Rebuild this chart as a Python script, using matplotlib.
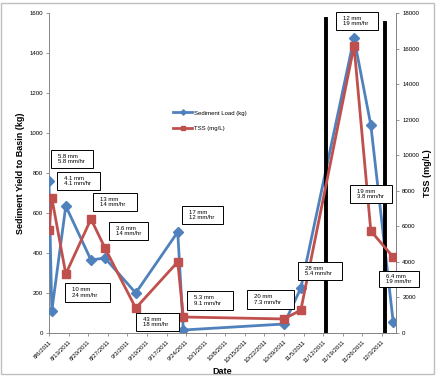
import numpy as np
import pandas as pd
import matplotlib
matplotlib.use('Agg')
import matplotlib.pyplot as plt
from matplotlib.patches import Rectangle

plt.rcParams['font.family'] = ['Liberation Sans', 'DejaVu Sans']

# sediment load (left axis, kg)
sed_dates = ['2011-08-06', '2011-08-07', '2011-08-12', '2011-08-21', '2011-08-26',
             '2011-09-06', '2011-09-21', '2011-09-23', '2011-10-29', '2011-11-04',
             '2011-11-23', '2011-11-29', '2011-12-07']
sed_load = [760, 110, 635, 365, 375, 200, 505, 15, 45, 225, 1475, 1040, 55]

# TSS (right axis, mg/L)
tss_dates = sed_dates
tss_vals = [5800, 7600, 3320, 6410, 4780, 1400, 4000, 900, 790, 1290, 16150, 5740, 4270]

# black event markers
vline_dates = ['2011-11-13', '2011-12-04']
vline_tops = [1570, 1550]

# rainfall boxes
box_labels = ['5.8 mm\n5.8 mm/hr', '4.1 mm\n4.1 mm/hr', '13 mm\n14 mm/hr', '3.6 mm\n14 mm/hr',
              '10 mm\n24 mm/hr', '43 mm\n18 mm/hr', '17 mm\n12 mm/hr', '5.3 mm\n9.1 mm/hr',
              '20 mm\n7.3 mm/hr', '28 mm\n5.4 mm/hr', '12 mm\n19 mm/hr', '19 mm\n3.8 mm/hr',
              '6.4 mm\n19 mm/hr']
# box pixel extents (x0, y0, x1, y1), y from top
box_px = [(51, 150, 93, 168), (57, 172, 100, 190), (93, 193, 137, 211), (109, 222, 148, 240),
          (65, 283, 110, 302), (136, 313, 179, 331), (182, 206, 223, 224), (187, 291, 233, 310),
          (247, 290, 294, 309), (298, 262, 342, 280), (336, 12, 378, 30), (350, 185, 392, 203),
          (379, 271, 419, 287)]

W, H = 441, 377
fig = plt.figure(figsize=(W / 100, H / 100), dpi=100)
ax = fig.add_axes([49 / W, 1 - 333 / H, (396 - 49) / W, 320 / H])
ax2 = ax.twinx()

blue = '#4F81BD'
red = '#C0504D'

sd = pd.to_datetime(sed_dates)
td = pd.to_datetime(tss_dates)
l1, = ax.plot(sd, sed_load, color=blue, lw=2.0, marker='D', ms=5, label='Sediment Load (kg)', zorder=3)
l2, = ax2.plot(td, tss_vals, color=red, lw=2.0, marker='s', ms=5.5, label='TSS (mg/L)', zorder=3)

for d, top in zip(pd.to_datetime(vline_dates), vline_tops):
    ax.plot([d, d], [0, top], color='black', lw=2.8, zorder=4)

ax.set_ylim(0, 1600)
ax2.set_ylim(0, 18000)
ax.set_yticks(np.arange(0, 1601, 200))
ax2.set_yticks(np.arange(0, 18001, 2000))
x0 = pd.Timestamp('2011-08-06')
ax.set_xlim(x0, pd.Timestamp('2011-12-08'))
ticks = pd.date_range('2011-08-06', '2011-12-03', freq='7D')
ax.set_xticks(ticks)
ax.set_xticklabels([f'{t.month}/{t.day}/{t.year}' for t in ticks], rotation=45,
                   ha='right', rotation_mode='anchor', fontsize=4.4)

for a in (ax, ax2):
    for s in a.spines.values():
        s.set_color('#868686')
        s.set_linewidth(0.7)
    a.spines['top'].set_visible(False)
    a.tick_params(length=2.5, width=0.6, color='#868686', labelsize=4.4, pad=2)
ax2.spines['left'].set_visible(False)

ax.set_ylabel('Sediment Yield to Basin (kg)', fontsize=6.5, fontweight='bold', labelpad=3)
ax2.set_ylabel('TSS (mg/L)', fontsize=6.5, fontweight='bold', labelpad=3)
ax.set_xlabel('Date', fontsize=6.5, fontweight='bold', labelpad=2)

ax2.legend(handles=[l1, l2], loc='upper left', bbox_to_anchor=(168 / W, 1 - 105 / H),
           bbox_transform=fig.transFigure, frameon=False, fontsize=4.3, handlelength=3.2,
           markerscale=0.55, labelspacing=1.8, handletextpad=0.3)

for lab, (bx0, by0, bx1, by1) in zip(box_labels, box_px):
    fig.add_artist(Rectangle((bx0 / W, 1 - by1 / H), (bx1 - bx0) / W, (by1 - by0) / H,
                             transform=fig.transFigure, facecolor='white',
                             edgecolor='black', lw=0.7, zorder=10))
    fig.text((bx0 + 7) / W, 1 - (by0 + by1) / 2 / H, lab, fontsize=4.3, va='center',
             ha='left', linespacing=1.1, zorder=11)

# chart area border
fig.add_artist(Rectangle((1 / W, 3 / H), 433 / W, 371 / H, transform=fig.transFigure,
                         fill=False, edgecolor='#bfbfbf', lw=1))

fig.savefig('out.png', dpi=100)
